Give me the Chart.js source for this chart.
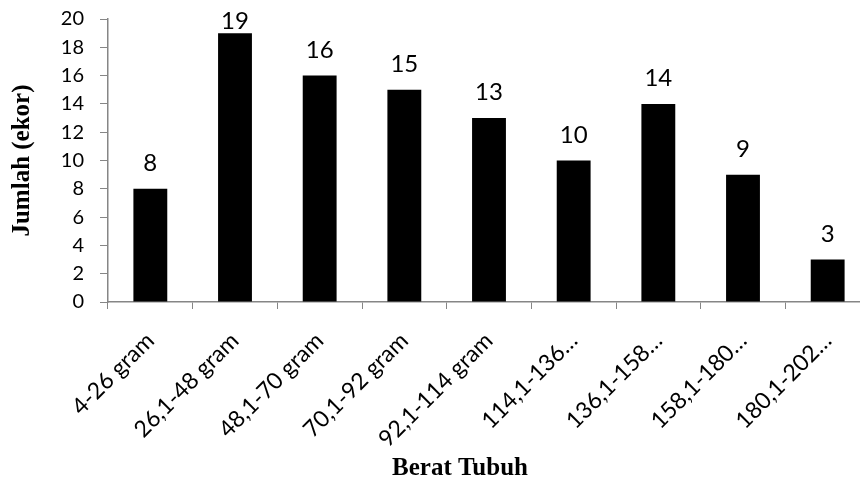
<!DOCTYPE html>
<html>
<head>
<meta charset="utf-8">
<script src="https://cdn.jsdelivr.net/npm/chart.js@4.4.1/dist/chart.umd.min.js"></script>
<style>
  html, body { margin: 0; padding: 0; background: #fff; overflow: hidden; }
  #wrap { width: 870px; height: 477px; }
</style>
</head>
<body>
<div id="wrap"><canvas id="beratChart"></canvas></div>
<script>
const categories = ["4-26 gram", "26,1-48 gram", "48,1-70 gram", "70,1-92 gram", "92,1-114 gram",
                    "114,1-136…", "136,1-158…", "158,1-180…", "180,1-202…"];
const jumlah = [8, 19, 16, 15, 13, 10, 14, 9, 3];
const yTitle = "Jumlah (ekor)";
const xTitle = "Berat Tubuh";

const axisGrey = "#868686";

// value labels above each bar, kept inside the plot like Excel does
const barValues = {
    id: "barValues",
    afterDatasetsDraw(chart) {
        const ctx = chart.ctx;
        const meta = chart.getDatasetMeta(0);
        const minBase = chart.chartArea.top + 10;
        ctx.save();
        ctx.font = "24px Lato";
        ctx.fillStyle = "#000";
        ctx.textAlign = "center";
        ctx.textBaseline = "alphabetic";
        meta.data.forEach((bar, i) => {
            ctx.fillText(jumlah[i], bar.x, Math.max(bar.y - 18, minBase));
        });
        ctx.restore();
    }
};

// x axis title, placed like the original (not centred on the plot)
const xAxisTitle = {
    id: "xAxisTitle",
    afterDraw(chart) {
        const ctx = chart.ctx;
        ctx.save();
        ctx.font = "bold 25px 'Liberation Serif'";
        ctx.fillStyle = "#000";
        ctx.textAlign = "center";
        ctx.textBaseline = "alphabetic";
        ctx.fillText(xTitle, 460, 475);
        ctx.restore();
    }
};

const ctx = document.getElementById("beratChart").getContext("2d");
new Chart(ctx, {
    type: "bar",
    data: {
        labels: categories,
        datasets: [{
            data: jumlah,
            backgroundColor: "#000",
            borderWidth: 0,
            barPercentage: 0.4,
            categoryPercentage: 1.0
        }]
    },
    options: {
        responsive: true,
        maintainAspectRatio: false,
        animation: false,
        layout: { padding: { top: 19, left: 0, right: 0, bottom: 0 } },
        plugins: {
            legend: { display: false },
            tooltip: { enabled: false }
        },
        scales: {
            x: {
                afterFit(scale) {
                    scale.height = 175;
                    scale.paddingLeft = 0;
                    scale.paddingRight = 0;
                },
                grid: { display: true, drawOnChartArea: false, color: axisGrey, tickLength: 7, offset: true },
                border: { color: axisGrey, width: 1.5 },
                ticks: { color: "#000", font: { family: "Lato", size: 23 }, maxRotation: 45, minRotation: 45, autoSkip: false, padding: 18 }
            },
            y: {
                min: 0,
                max: 20,
                afterFit(scale) {
                    scale.width = 108;
                    scale.paddingTop = 0;
                    scale.paddingBottom = 0;
                },
                ticks: { stepSize: 2, color: "#000", font: { family: "Lato", size: 20 }, padding: 16 },
                grid: { display: true, drawOnChartArea: false, color: axisGrey, tickLength: 8 },
                border: { color: axisGrey, width: 1.5 },
                title: { display: true, text: yTitle, color: "#000", font: { family: "Liberation Serif", size: 25, weight: "bold" }, padding: { top: 8, bottom: 4 } }
            }
        }
    },
    plugins: [barValues, xAxisTitle]
});
</script>
</body>
</html>
